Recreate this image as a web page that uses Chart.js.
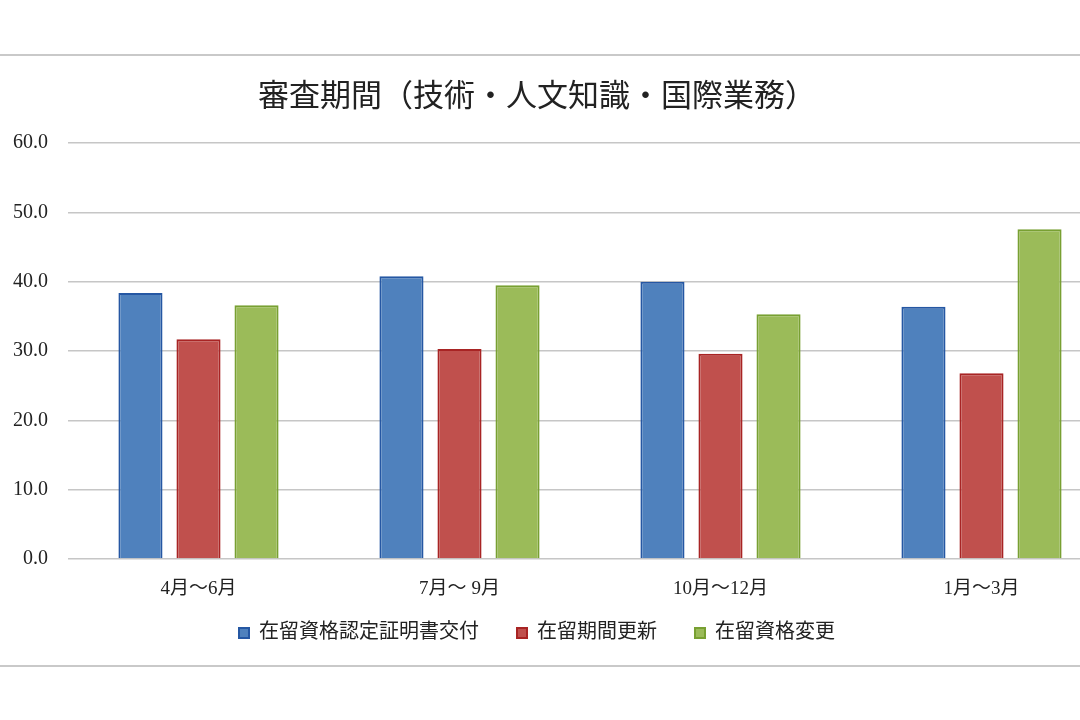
<!DOCTYPE html>
<html lang="ja">
<head>
<meta charset="utf-8">
<title>審査期間（技術・人文知識・国際業務）</title>
<script src="https://cdn.jsdelivr.net/npm/chart.js@4.4.1/dist/chart.umd.min.js"></script>
<style>
  html, body { margin: 0; padding: 0; background: #fff; }
  body { width: 1080px; height: 720px; overflow: hidden; position: relative; }
  #wrap { position: absolute; left: -38px; top: 0; width: 1150px; height: 720px; }
  .frame { position: absolute; left: 0; width: 1080px; height: 0; border-top: 2px solid #c9c9c9; z-index: 2; }
</style>
</head>
<body>
<div class="frame" style="top:54px"></div>
<div class="frame" style="top:665px"></div>
<div id="wrap"><canvas id="chart"></canvas></div>
<script>
// Data
const categories = ["4月～6月", "7月～ 9月", "10月～12月", "1月～3月"];
const seriesNames = ["在留資格認定証明書交付", "在留期間更新", "在留資格変更"];
const certValues = [38.4, 40.8, 40.0, 36.4];
const renewValues = [31.7, 30.3, 29.6, 26.8];
const changeValues = [36.6, 39.5, 35.3, 47.6];
const yTicks = [0, 10, 20, 30, 40, 50, 60];

const fontFamily = "'Liberation Serif', 'Noto Sans CJK JP', serif";
const textColor = "#222";
const gridColor = "#c6c6c6";

const fills = ["#4f81bd", "#c0504d", "#9bbb59"];
const borders = ["#2557a3", "#a82424", "#78a032"];

// legend padding also sets the gap between items, so pull the box up a bit
const legendLift = {
  id: "legendLift",
  afterLayout(chart) {
    const lg = chart.legend;
    if (lg) { lg.top -= 16; lg.bottom -= 16; }
  }
};

const ctx = document.getElementById("chart").getContext("2d");

new Chart(ctx, {
  type: "bar",
  data: {
    labels: categories,
    datasets: [certValues, renewValues, changeValues].map((vals, i) => ({
      label: seriesNames[i],
      data: vals,
      backgroundColor: fills[i],
      borderColor: borders[i],
      borderWidth: 2,
      categoryPercentage: 0.667,
      barPercentage: 0.76
    }))
  },
  plugins: [legendLift],
  options: {
    responsive: true,
    maintainAspectRatio: false,
    animation: false,
    layout: { padding: { left: 0, right: 0, top: 0, bottom: 51 } },
    plugins: {
      title: {
        display: true,
        text: "審査期間（技術・人文知識・国際業務）",
        color: textColor,
        font: { family: fontFamily, size: 31, weight: "normal", lineHeight: 1.2 },
        padding: { top: 79, bottom: 27 }
      },
      legend: {
        position: "bottom",
        labels: {
          color: textColor,
          font: { family: fontFamily, size: 20 },
          boxWidth: 10,
          boxHeight: 10,
          padding: 38
        }
      },
      tooltip: { enabled: false }
    },
    scales: {
      x: {
        grid: { display: false, drawTicks: false },
        border: { display: false },
        ticks: {
          color: textColor,
          font: { family: fontFamily, size: 19 },
          padding: 19,
          autoSkip: false
        },
        afterFit: s => { s.height = 42; }
      },
      y: {
        min: 0,
        max: 60,
        afterBuildTicks: s => { s.ticks = yTicks.map(v => ({ value: v })); },
        grid: { color: gridColor, lineWidth: 1.6, drawTicks: false },
        border: { display: false },
        ticks: {
          color: textColor,
          font: { family: fontFamily, size: 20 },
          padding: 20,
          callback: v => Number(v).toFixed(1)
        },
        afterFit: s => { s.width = 106; }
      }
    }
  }
});
</script>
</body>
</html>
